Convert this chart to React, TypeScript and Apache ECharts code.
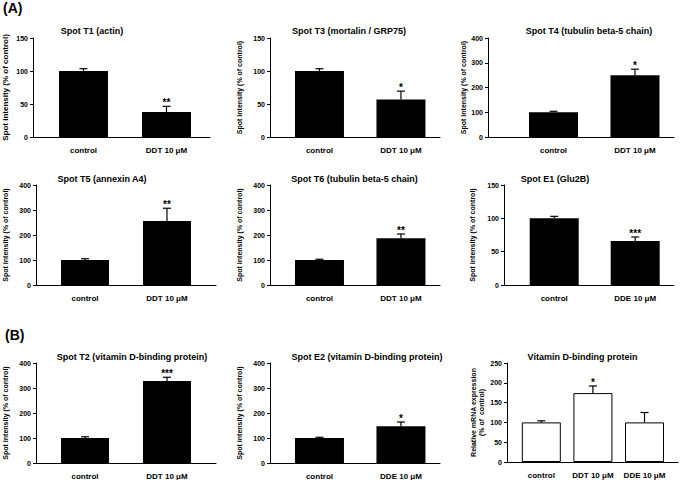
import React, { useEffect, useRef } from "react";
import * as echarts from "echarts";

const FONT = "'Liberation Sans', Arial, Helvetica, sans-serif";

// ---- data ----
const catsDDT = ["control", "DDT 10 μM"];
const catsDDE = ["control", "DDE 10 μM"];
const catsMRNA = ["control", "DDT 10 μM", "DDE 10 μM"];

const t1Values = [100, 38];
const t1Errors = [3.5, 8.5];
const t1Sig = ["", "**"];

const t3Values = [100, 57];
const t3Errors = [3.5, 12.5];
const t3Sig = ["", "*"];

const t4Values = [100, 250];
const t4Errors = [4, 24];
const t4Sig = ["", "*"];

const t5Values = [100, 256];
const t5Errors = [5, 51];
const t5Sig = ["", "**"];

const t6Values = [100, 187];
const t6Errors = [3, 17];
const t6Sig = ["", "**"];

const e1Values = [100, 66];
const e1Errors = [3, 6];
const e1Sig = ["", "***"];

const t2Values = [100, 328];
const t2Errors = [5, 15];
const t2Sig = ["", "***"];

const e2Values = [100, 147];
const e2Errors = [3, 17];
const e2Sig = ["", "*"];

const mrnaValues = [100, 174, 100];
const mrnaErrors = [4, 18, 25];
const mrnaSig = ["", "*", ""];

const spotName = "Spot intensity (% of control)";
const mrnaName = "Relative mRNA expression\n(% of  control)";

type Panel = {
  title: string;
  cats: string[];
  values: number[];
  errors: number[];
  sig: string[];
  yMax: number;
  yInterval: number;
  yName: string;
  white?: boolean;
  // layout
  left: number;
  top: number;
  width: number;
  height: number;
  xMin: number;
  xMax: number;
  barWidth: number;
  titleX: number;
  titleY: number;
  nameGap: number;
  nameSize: number;
};

const panels: Panel[] = [
  { title: "Spot T1 (actin)", cats: catsDDT, values: t1Values, errors: t1Errors, sig: t1Sig, yMax: 150, yInterval: 50, yName: spotName,
    left: 33, top: 38, width: 177, height: 99, xMin: -0.608, xMax: 1.524, barWidth: 49, titleX: 92, titleY: 31, nameGap: 23, nameSize: 8 },
  { title: "Spot T3 (mortalin / GRP75)", cats: catsDDT, values: t3Values, errors: t3Errors, sig: t3Sig, yMax: 150, yInterval: 50, yName: spotName,
    left: 270, top: 38, width: 170, height: 99, xMin: -0.607, xMax: 1.479, barWidth: 49, titleX: 349, titleY: 31, nameGap: 26.5, nameSize: 7 },
  { title: "Spot T4 (tubulin beta-5 chain)", cats: catsDDT, values: t4Values, errors: t4Errors, sig: t4Sig, yMax: 400, yInterval: 100, yName: spotName,
    left: 488, top: 38, width: 186, height: 99, xMin: -0.804, xMax: 1.479, barWidth: 49, titleX: 589, titleY: 31, nameGap: 10.5, nameSize: 7 },
  { title: "Spot T5 (annexin A4)", cats: catsDDT, values: t5Values, errors: t5Errors, sig: t5Sig, yMax: 400, yInterval: 100, yName: spotName,
    left: 36, top: 185, width: 180, height: 100, xMin: -0.598, xMax: 1.598, barWidth: 48, titleX: 102, titleY: 179, nameGap: 26.5, nameSize: 7 },
  { title: "Spot T6 (tubulin beta-5 chain)", cats: catsDDT, values: t6Values, errors: t6Errors, sig: t6Sig, yMax: 400, yInterval: 100, yName: spotName,
    left: 270, top: 185, width: 170, height: 100, xMin: -0.607, xMax: 1.479, barWidth: 49, titleX: 354.5, titleY: 179, nameGap: 26.5, nameSize: 7 },
  { title: "Spot E1 (Glu2B)", cats: catsDDE, values: e1Values, errors: e1Errors, sig: e1Sig, yMax: 150, yInterval: 50, yName: spotName,
    left: 504, top: 185, width: 170, height: 100, xMin: -0.62, xMax: 1.479, barWidth: 49, titleX: 555, titleY: 179, nameGap: 27, nameSize: 7 },
  { title: "Spot T2 (vitamin D-binding protein)", cats: catsDDT, values: t2Values, errors: t2Errors, sig: t2Sig, yMax: 400, yInterval: 100, yName: spotName,
    left: 36, top: 363, width: 180, height: 100, xMin: -0.598, xMax: 1.598, barWidth: 48, titleX: 132, titleY: 357, nameGap: 26.5, nameSize: 7 },
  { title: "Spot E2 (vitamin D-binding protein)", cats: catsDDE, values: e2Values, errors: e2Errors, sig: e2Sig, yMax: 400, yInterval: 100, yName: spotName,
    left: 270, top: 363, width: 170, height: 100, xMin: -0.607, xMax: 1.479, barWidth: 49, titleX: 367, titleY: 357, nameGap: 26.5, nameSize: 7 },
  { title: "Vitamin D-binding protein", cats: catsMRNA, values: mrnaValues, errors: mrnaErrors, sig: mrnaSig, yMax: 250, yInterval: 50, yName: mrnaName, white: true,
    left: 507, top: 363, width: 171, height: 99, xMin: -0.665, xMax: 2.649, barWidth: 39, titleX: 582.5, titleY: 357, nameGap: 21, nameSize: 7 },
];

function buildOption() {
  const grid = panels.map((p) => ({ left: p.left, top: p.top, width: p.width, height: p.height, containLabel: false }));
  const xAxis = panels.map((p, i) => ({
    type: "value",
    gridIndex: i,
    min: p.xMin,
    max: p.xMax,
    axisLine: { show: true, onZero: false, lineStyle: { color: "#000", width: 1 } },
    axisTick: { show: false },
    splitLine: { show: false },
    axisLabel: {
      customValues: p.cats.map((_, k) => k),
      formatter: (v: number) => p.cats[Math.round(v)] ?? "",
      fontSize: 8,
      fontWeight: "bold",
      fontFamily: FONT,
      color: "#000",
      margin: 9,
    },
  }));
  const yAxis = panels.map((p, i) => ({
    type: "value",
    gridIndex: i,
    min: 0,
    max: p.yMax,
    interval: p.yInterval,
    name: p.yName,
    nameLocation: "middle",
    nameGap: p.nameGap,
    nameRotate: 90,
    nameTextStyle: { fontSize: p.nameSize, fontWeight: "bold", fontFamily: FONT, color: "#000", lineHeight: 8.5 },
    axisLine: { show: true, onZero: false, lineStyle: { color: "#000", width: 1 } },
    axisTick: { show: true, length: 3, inside: false, lineStyle: { color: "#000", width: 1 } },
    splitLine: { show: false },
    axisLabel: { fontSize: 7, fontWeight: "bold", fontFamily: FONT, color: "#000", margin: 5 },
  }));
  const series: any[] = [];
  panels.forEach((p, i) => {
    series.push({
      type: "bar",
      xAxisIndex: i,
      yAxisIndex: i,
      data: p.values.map((v, k) => [k, v]),
      barWidth: p.barWidth,
      itemStyle: { color: p.white ? "#fff" : "#000", borderColor: "#000", borderWidth: p.white ? 1 : 0 },
      silent: true,
    });
    series.push({
      type: "custom",
      xAxisIndex: i,
      yAxisIndex: i,
      data: p.values.map((v, k) => [k, v, p.errors[k]]),
      silent: true,
      z: 5,
      renderItem: (params: any, api: any) => {
        const k = params.dataIndex;
        const x = api.value(0);
        const v = api.value(1);
        const e = api.value(2);
        const base = api.coord([x, v]);
        const top = api.coord([x, v + e]);
        const children: any[] = [
          { type: "line", shape: { x1: base[0], y1: base[1], x2: top[0], y2: top[1] }, style: { stroke: "#000", lineWidth: 1.2 } },
          { type: "line", shape: { x1: top[0] - 4, y1: top[1], x2: top[0] + 4, y2: top[1] }, style: { stroke: "#000", lineWidth: 1.2 } },
        ];
        const s = p.sig[k];
        if (s) {
          children.push({
            type: "text",
            x: top[0],
            y: top[1] + 1.5,
            style: { text: s, align: "center", verticalAlign: "bottom", font: `bold 10px ${FONT}`, fill: "#000" },
          });
        }
        return { type: "group", children };
      },
    });
  });
  const graphic: any[] = [
    { type: "text", left: 3, top: 1, style: { text: "(A)", font: `bold 14px ${FONT}`, fill: "#000" } },
    { type: "text", left: 5, top: 328, style: { text: "(B)", font: `bold 14px ${FONT}`, fill: "#000" } },
    ...panels.map((p) => ({
      type: "text",
      x: p.titleX,
      y: p.titleY,
      style: { text: p.title, align: "center", verticalAlign: "middle", font: `bold 9px ${FONT}`, fill: "#000" },
    })),
  ];
  return {
    animation: false,
    backgroundColor: "#fff",
    textStyle: { fontFamily: FONT },
    grid,
    xAxis,
    yAxis,
    series,
    graphic,
  };
}

export default function App() {
  const ref = useRef<HTMLDivElement>(null);
  useEffect(() => {
    document.body.style.margin = "0";
    if (!ref.current) return;
    const chart = echarts.init(ref.current, null, { renderer: "svg" });
    chart.setOption(buildOption() as any);
    return () => chart.dispose();
  }, []);
  return <div ref={ref} style={{ width: 685, height: 480 }} />;
}
